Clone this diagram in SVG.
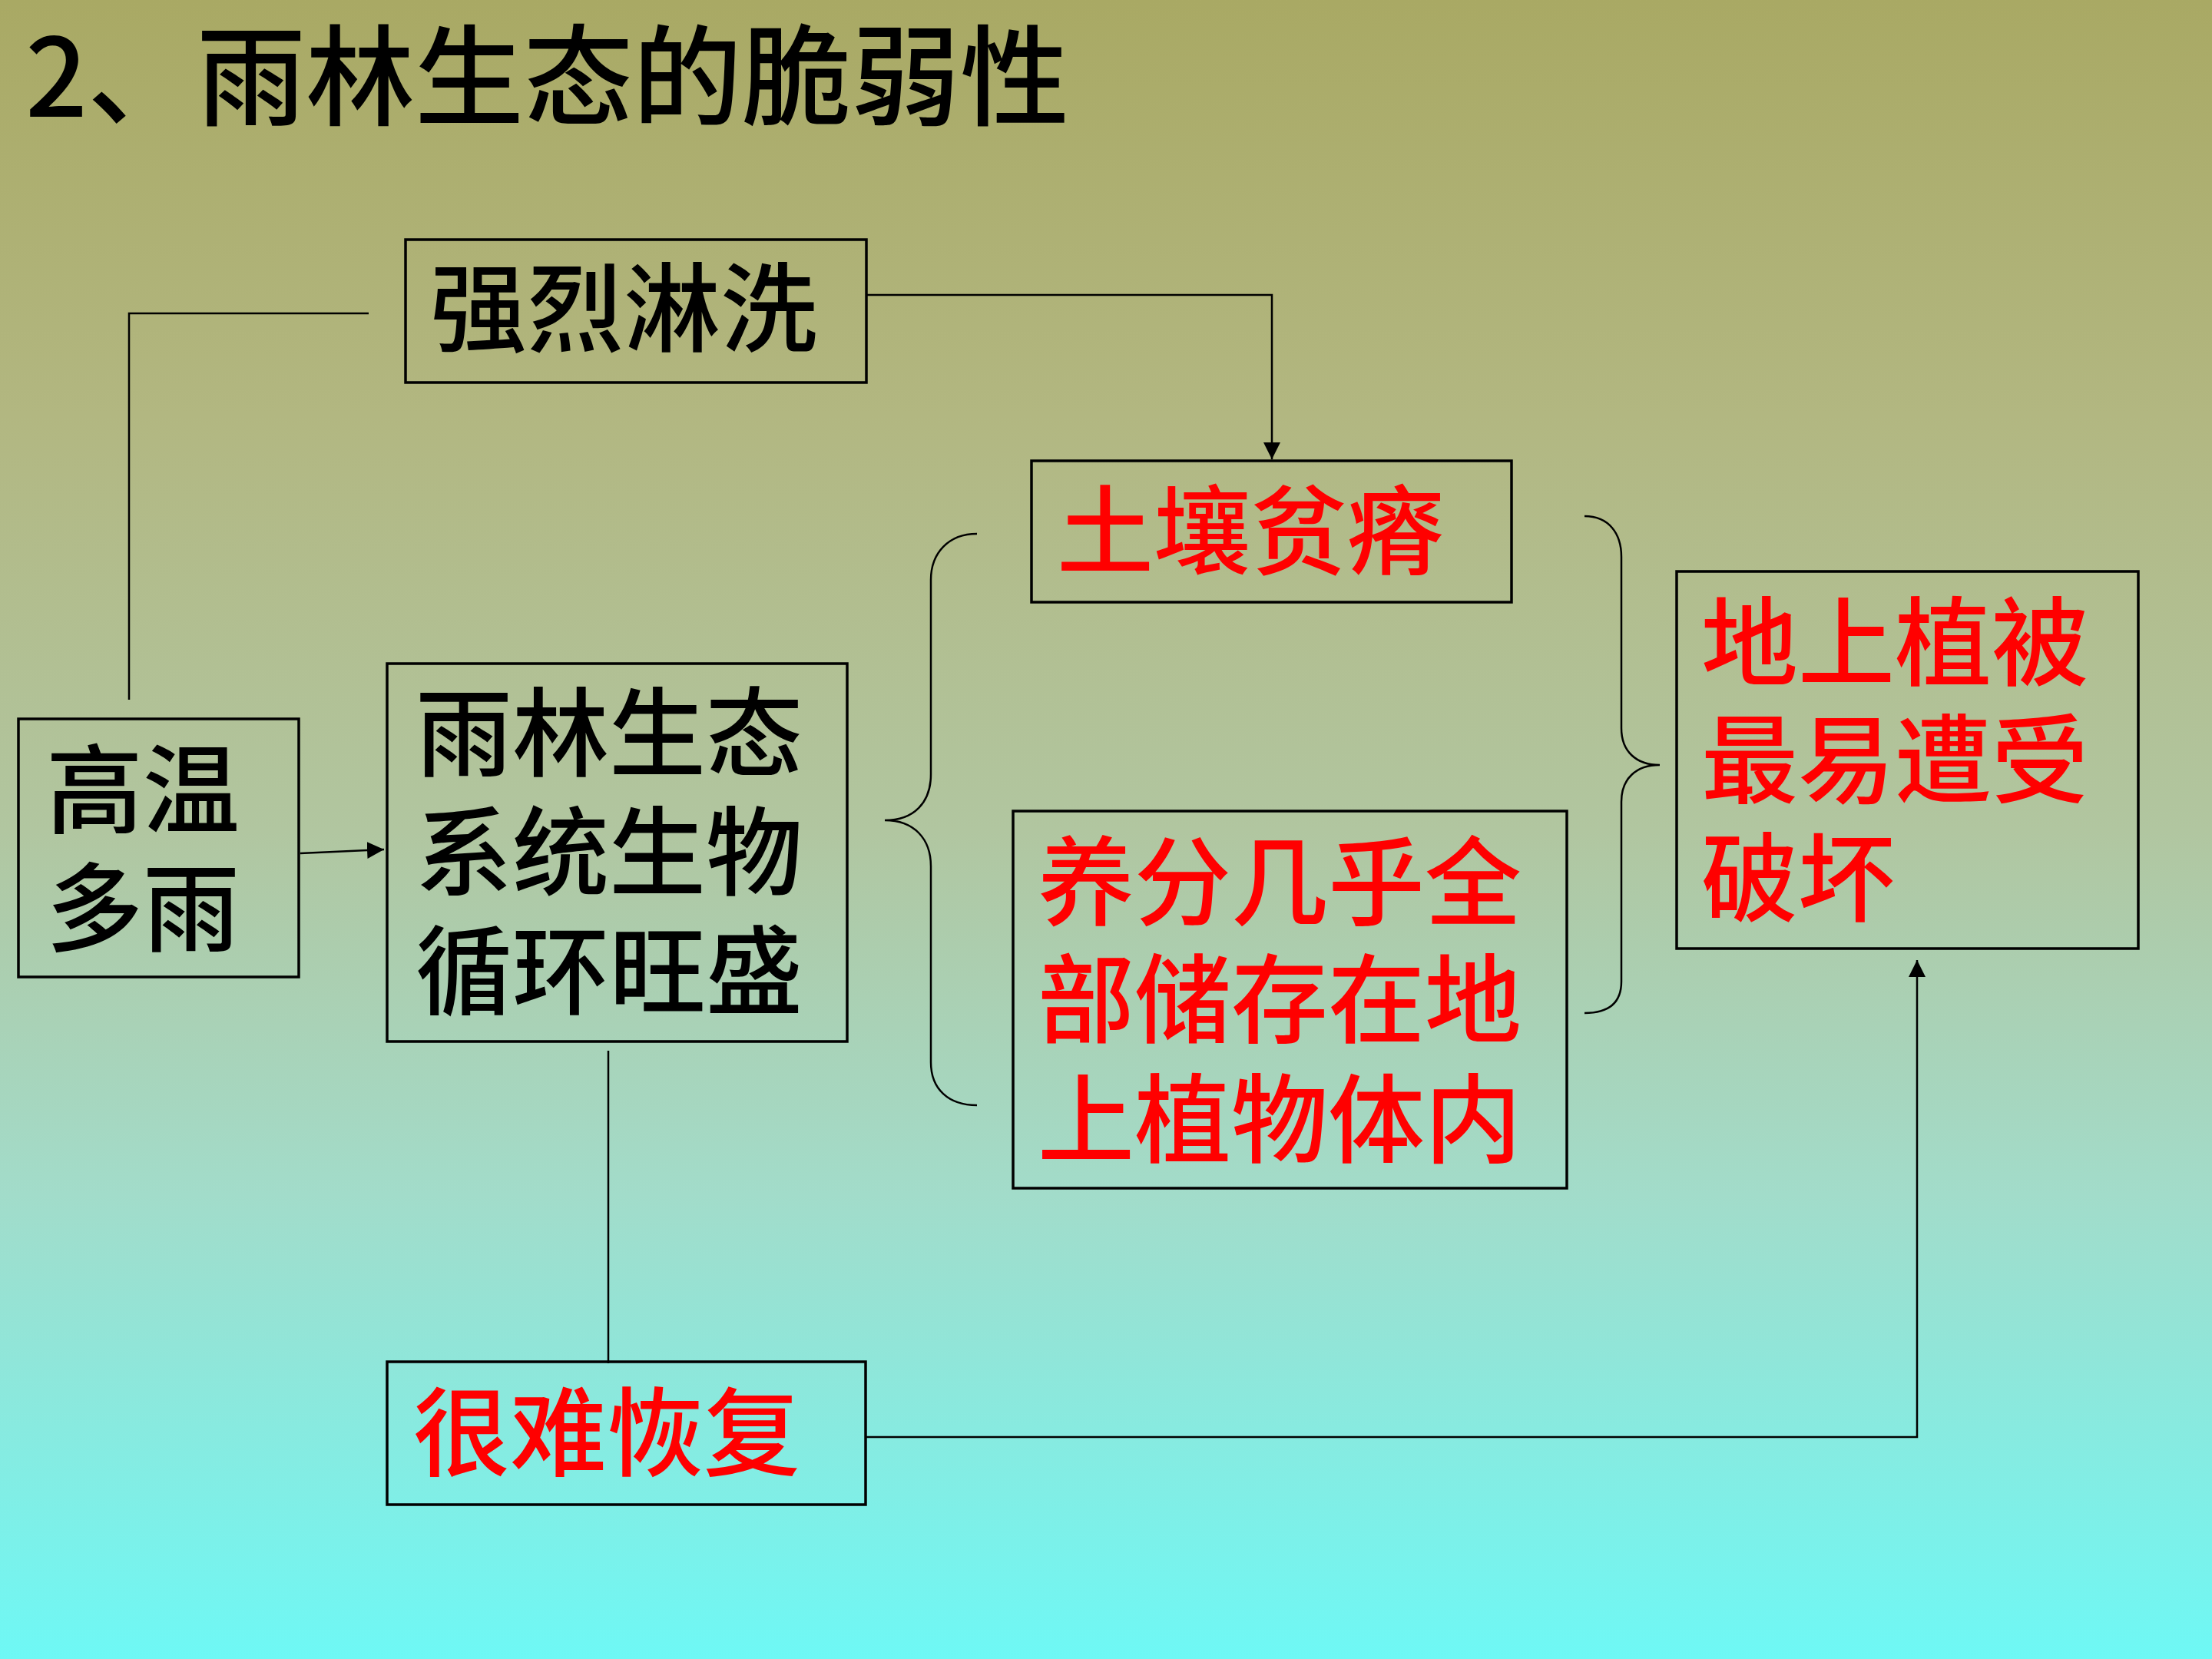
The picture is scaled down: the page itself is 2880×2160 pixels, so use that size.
<svg xmlns="http://www.w3.org/2000/svg" width="2880" height="2160" viewBox="0 0 2880 2160">
<defs>
<linearGradient id="bg" x1="0" y1="0" x2="0" y2="1">
<stop offset="0" stop-color="#a9a964"/>
<stop offset="0.25" stop-color="#b2b781"/>
<stop offset="0.5" stop-color="#b1c6a0"/>
<stop offset="0.72" stop-color="#a2dcca"/>
<stop offset="1" stop-color="#6ef8f5"/>
</linearGradient>
<marker id="arr" markerUnits="userSpaceOnUse" markerWidth="24" markerHeight="24" refX="22" refY="11" orient="auto">
<path d="M0,0 L22,11 L0,22 z" fill="#000"/>
</marker>
<style>
.box{fill:none;stroke:#000;stroke-width:3.5}
.ln{fill:none;stroke:#000;stroke-width:2.5}
.t{font-family:"Noto Sans CJK SC","Noto Sans CJK JP",sans-serif;font-size:126px;font-weight:500}
.blk{fill:#000}
.red{fill:#ff0000}
</style>
</defs>
<rect x="0" y="0" width="2880" height="2160" fill="url(#bg)"/>
<text id="title" x="33" y="152" class="t blk" style="font-size:142px">2、雨林生态的脆弱性</text>

<g id="connectors">
<polyline class="ln" points="168,911 168,408 480,408"/>
<polyline class="ln" points="1128,384 1656,384 1656,598" marker-end="url(#arr)"/>
<line class="ln" x1="391" y1="1111" x2="500" y2="1106" marker-end="url(#arr)"/>
<line class="ln" x1="792" y1="1368" x2="792" y2="1775"/>
<polyline class="ln" points="1127,1871 2496,1871 2496,1250" marker-end="url(#arr)"/>
<path class="ln" d="M1272,695 C1235,695 1212,720 1212,755 L1212,1008 C1212,1045 1190,1068 1152,1068 C1190,1068 1212,1092 1212,1128 L1212,1383 C1212,1418 1235,1439 1272,1439"/>
<path class="ln" d="M2063,672 C2095,672 2111,695 2111,725 L2111,948 C2111,978 2130,996 2161,996 C2130,996 2111,1014 2111,1044 L2111,1278 C2111,1305 2095,1319 2063,1319"/>
</g>

<g id="n-leaching">
<rect class="box" x="528" y="312" width="600" height="186"/>
<text class="t blk" x="560" y="448">强烈淋洗</text>
</g>
<g id="n-climate">
<rect class="box" x="24" y="936" width="365" height="336"/>
<text class="t blk" x="60" y="1075">高温</text>
<text class="t blk" x="60" y="1229">多雨</text>
</g>
<g id="n-cycle">
<rect class="box" x="504" y="864" width="599" height="492"/>
<text class="t blk" x="541" y="1001">雨林生态</text>
<text class="t blk" x="541" y="1156">系统生物</text>
<text class="t blk" x="541" y="1311">循环旺盛</text>
</g>
<g id="n-soil">
<rect class="box" x="1343" y="600" width="625" height="184"/>
<text class="t red" x="1376" y="738">土壤贫瘠</text>
</g>
<g id="n-nutrient">
<rect class="box" x="1319" y="1056" width="721" height="491"/>
<text class="t red" x="1351" y="1195">养分几乎全</text>
<text class="t red" x="1351" y="1348">部储存在地</text>
<text class="t red" x="1351" y="1504">上植物体内</text>
</g>
<g id="n-vegetation">
<rect class="box" x="2183" y="744" width="601" height="491"/>
<text class="t red" x="2215" y="883">地上植被</text>
<text class="t red" x="2215" y="1036">最易遭受</text>
<text class="t red" x="2215" y="1190">破坏</text>
</g>
<g id="n-recover">
<rect class="box" x="504" y="1773" width="623" height="186"/>
<text class="t red" x="538" y="1912">很难恢复</text>
</g>
</svg>
